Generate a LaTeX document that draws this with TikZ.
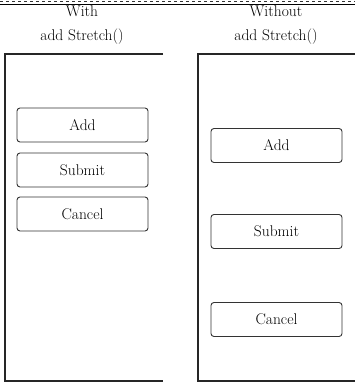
\documentclass[tikz,border=0pt]{standalone}
\begin{document}
\begin{tikzpicture}[x=1pt,y=-1pt,
  panel/.style={line width=1.6pt,draw=black!85},
  btn/.style={draw=black!80,line width=0.9pt,rounded corners=3pt,minimum width=131pt,minimum height=34pt,inner sep=0pt,font=\fontsize{15.5}{18}\selectfont},
  title/.style={font=\fontsize{15.5}{24}\selectfont,align=center}]
\useasboundingbox (0,0) rectangle (355,386);
% frame lines along the top
\draw[dashed,black!80,line width=0.8pt] (0,1) -- (355,1);
\draw[black,line width=1pt] (0,4.5) -- (355,4.5);
% left panel: with add Stretch()
\draw[panel] (163,54) -- (5,54) -- (5,381) -- (163,381);
\node[title] (t1) at (82,25) {With\\add Stretch()};
\node[btn] (a1) at (82.5,125) {Add};
\node[btn] (s1) at (82.5,170) {Submit};
\node[btn] (c1) at (82.5,214) {Cancel};
% right panel: without add Stretch()
\draw[panel] (360,54) -- (198,54) -- (198,381) -- (360,381);
\node[title] (t2) at (276,25) {Without\\add Stretch()};
\node[btn] (a2) at (276.5,145.5) {Add};
\node[btn] (s2) at (276.5,231.5) {Submit};
\node[btn] (c2) at (276.5,319.5) {Cancel};
\end{tikzpicture}
\end{document}
